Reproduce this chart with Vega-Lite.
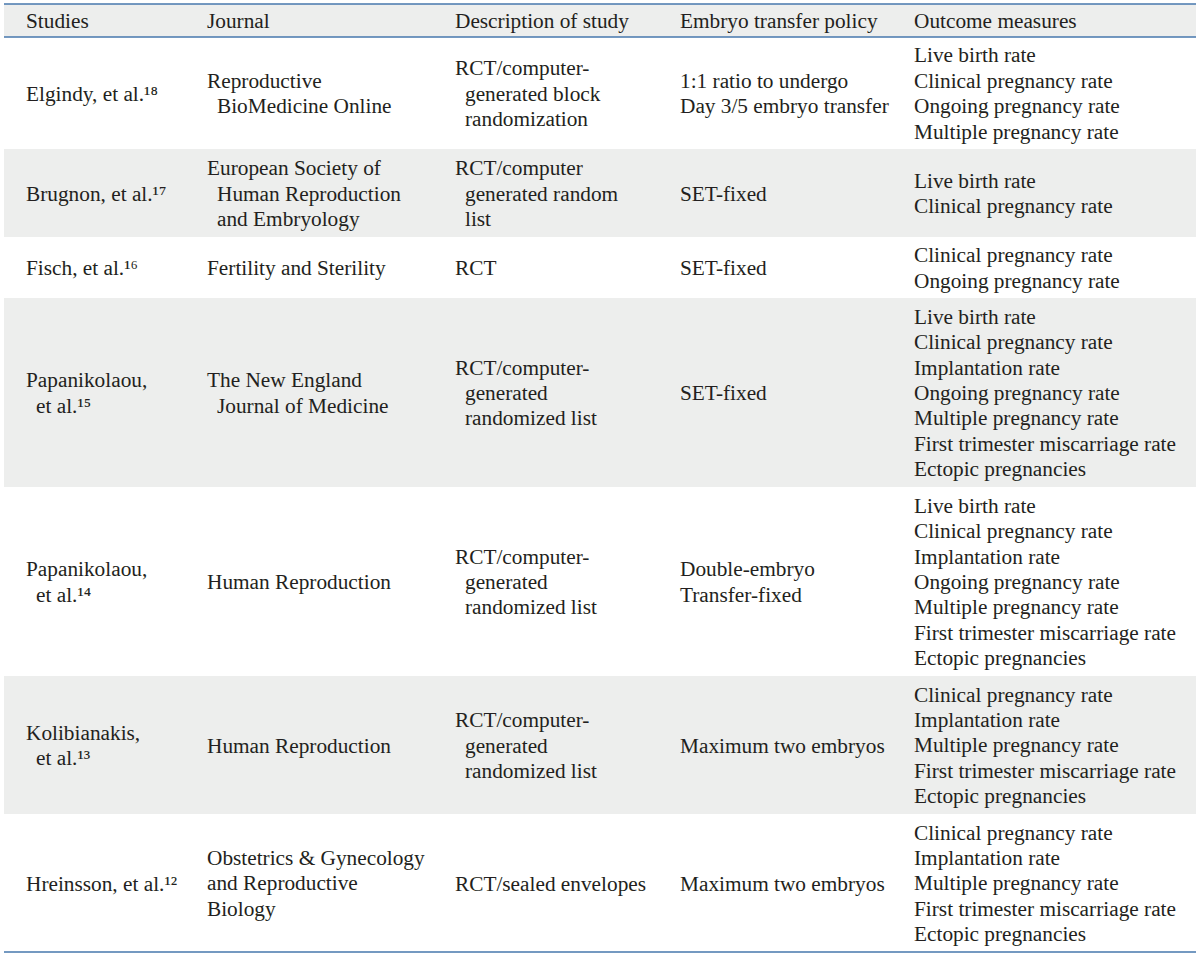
{
  "$schema": "https://vega.github.io/schema/vega-lite/v6.json",
  "autosize": {"type": "none"},
  "padding": {"left": 4, "right": 4, "top": 0, "bottom": 0},
  "width": 1192,
  "height": 956,
  "background": "#ffffff",
  "config": {"view": {"stroke": null}},
  "datasets": {
    "bands": [
      {"start": 0, "end": 1},
      {"start": 2, "end": 3},
      {"start": 4, "end": 5},
      {"start": 6, "end": 7}
    ],
    "lines": [
      {"b": 0},
      {"b": 1},
      {"b": 8}
    ],
    "cells": [
      {"r": 0, "c": 0, "n": 1, "text": "Studies"},
      {"r": 0, "c": 1, "n": 1, "text": "Journal"},
      {"r": 0, "c": 2, "n": 1, "text": "Description of study"},
      {"r": 0, "c": 3, "n": 1, "text": "Embryo transfer policy"},
      {"r": 0, "c": 4, "n": 1, "text": "Outcome measures"},

      {"r": 1, "c": 0, "n": 1, "text": "Elgindy, et al.¹⁸"},
      {"r": 1, "c": 1, "n": 2, "text": "Reproductive", "cont": "BioMedicine Online"},
      {"r": 1, "c": 2, "n": 3, "text": "RCT/computer-", "cont": "generated block\nrandomization"},
      {"r": 1, "c": 3, "n": 2, "text": "1:1 ratio to undergo\nDay 3/5 embryo transfer"},
      {"r": 1, "c": 4, "n": 4, "text": "Live birth rate\nClinical pregnancy rate\nOngoing pregnancy rate\nMultiple pregnancy rate"},

      {"r": 2, "c": 0, "n": 1, "text": "Brugnon, et al.¹⁷"},
      {"r": 2, "c": 1, "n": 3, "text": "European Society of", "cont": "Human Reproduction\nand Embryology"},
      {"r": 2, "c": 2, "n": 3, "text": "RCT/computer", "cont": "generated random\nlist"},
      {"r": 2, "c": 3, "n": 1, "text": "SET-fixed"},
      {"r": 2, "c": 4, "n": 2, "text": "Live birth rate\nClinical pregnancy rate"},

      {"r": 3, "c": 0, "n": 1, "text": "Fisch, et al.¹⁶"},
      {"r": 3, "c": 1, "n": 1, "text": "Fertility and Sterility"},
      {"r": 3, "c": 2, "n": 1, "text": "RCT"},
      {"r": 3, "c": 3, "n": 1, "text": "SET-fixed"},
      {"r": 3, "c": 4, "n": 2, "text": "Clinical pregnancy rate\nOngoing pregnancy rate"},

      {"r": 4, "c": 0, "n": 2, "text": "Papanikolaou,", "cont": "et al.¹⁵"},
      {"r": 4, "c": 1, "n": 2, "text": "The New England", "cont": "Journal of Medicine"},
      {"r": 4, "c": 2, "n": 3, "text": "RCT/computer-", "cont": "generated\nrandomized list"},
      {"r": 4, "c": 3, "n": 1, "text": "SET-fixed"},
      {"r": 4, "c": 4, "n": 7, "text": "Live birth rate\nClinical pregnancy rate\nImplantation rate\nOngoing pregnancy rate\nMultiple pregnancy rate\nFirst trimester miscarriage rate\nEctopic pregnancies"},

      {"r": 5, "c": 0, "n": 2, "text": "Papanikolaou,", "cont": "et al.¹⁴"},
      {"r": 5, "c": 1, "n": 1, "text": "Human Reproduction"},
      {"r": 5, "c": 2, "n": 3, "text": "RCT/computer-", "cont": "generated\nrandomized list"},
      {"r": 5, "c": 3, "n": 2, "text": "Double-embryo\nTransfer-fixed"},
      {"r": 5, "c": 4, "n": 7, "text": "Live birth rate\nClinical pregnancy rate\nImplantation rate\nOngoing pregnancy rate\nMultiple pregnancy rate\nFirst trimester miscarriage rate\nEctopic pregnancies"},

      {"r": 6, "c": 0, "n": 2, "text": "Kolibianakis,", "cont": "et al.¹³"},
      {"r": 6, "c": 1, "n": 1, "text": "Human Reproduction"},
      {"r": 6, "c": 2, "n": 3, "text": "RCT/computer-", "cont": "generated\nrandomized list"},
      {"r": 6, "c": 3, "n": 1, "text": "Maximum two embryos"},
      {"r": 6, "c": 4, "n": 5, "text": "Clinical pregnancy rate\nImplantation rate\nMultiple pregnancy rate\nFirst trimester miscarriage rate\nEctopic pregnancies"},

      {"r": 7, "c": 0, "n": 1, "text": "Hreinsson, et al.¹²"},
      {"r": 7, "c": 1, "n": 3, "text": "Obstetrics & Gynecology\nand Reproductive\nBiology"},
      {"r": 7, "c": 2, "n": 1, "text": "RCT/sealed envelopes"},
      {"r": 7, "c": 3, "n": 1, "text": "Maximum two embryos"},
      {"r": 7, "c": 4, "n": 5, "text": "Clinical pregnancy rate\nImplantation rate\nMultiple pregnancy rate\nFirst trimester miscarriage rate\nEctopic pregnancies"}
    ]
  },
  "layer": [
    {
      "data": {"name": "bands"},
      "mark": {"type": "rect", "color": "#edeeed"},
      "encoding": {
        "y": {"field": "start", "type": "quantitative", "axis": null,
              "scale": {"domain": [0, 1, 2, 3, 4, 5, 6, 7, 8], "range": [4, 37, 149, 237, 298, 487, 676, 814, 952]}},
        "y2": {"field": "end"}
      }
    },
    {
      "data": {"name": "lines"},
      "mark": {"type": "rule", "color": "#4677ad", "strokeWidth": 1.4},
      "encoding": {
        "y": {"field": "b", "type": "quantitative", "axis": null,
              "scale": {"domain": [0, 1, 2, 3, 4, 5, 6, 7, 8], "range": [4, 37, 149, 237, 298, 487, 676, 814, 952]}}
      }
    },
    {
      "data": {"name": "cells"},
      "encoding": {
        "x": {"field": "c", "type": "quantitative", "axis": null,
              "scale": {"domain": [0, 1, 2, 3, 4], "range": [22, 203, 451, 676, 910]}},
        "y": {"field": "r", "type": "quantitative", "axis": null,
              "scale": {"domain": [0, 1, 2, 3, 4, 5, 6, 7], "range": [22.2, 94.5, 194.5, 269, 394, 583, 746.5, 884.5]}}
      },
      "layer": [
        {"transform": [{"filter": "datum.n == 1"}],
         "mark": {"type": "text", "align": "left", "baseline": "middle", "font": "Liberation Serif", "fontSize": 21.3, "lineHeight": 25.4, "lineBreak": "\n", "color": "#231f20", "dy": 0},
         "encoding": {"text": {"field": "text", "type": "nominal"}}},
        {"transform": [{"filter": "datum.n == 2"}],
         "mark": {"type": "text", "align": "left", "baseline": "middle", "font": "Liberation Serif", "fontSize": 21.3, "lineHeight": 25.4, "lineBreak": "\n", "color": "#231f20", "dy": -12.7},
         "encoding": {"text": {"field": "text", "type": "nominal"}}},
        {"transform": [{"filter": "datum.n == 3"}],
         "mark": {"type": "text", "align": "left", "baseline": "middle", "font": "Liberation Serif", "fontSize": 21.3, "lineHeight": 25.4, "lineBreak": "\n", "color": "#231f20", "dy": -25.4},
         "encoding": {"text": {"field": "text", "type": "nominal"}}},
        {"transform": [{"filter": "datum.n == 4"}],
         "mark": {"type": "text", "align": "left", "baseline": "middle", "font": "Liberation Serif", "fontSize": 21.3, "lineHeight": 25.4, "lineBreak": "\n", "color": "#231f20", "dy": -38.1},
         "encoding": {"text": {"field": "text", "type": "nominal"}}},
        {"transform": [{"filter": "datum.n == 5"}],
         "mark": {"type": "text", "align": "left", "baseline": "middle", "font": "Liberation Serif", "fontSize": 21.3, "lineHeight": 25.4, "lineBreak": "\n", "color": "#231f20", "dy": -50.8},
         "encoding": {"text": {"field": "text", "type": "nominal"}}},
        {"transform": [{"filter": "datum.n == 7"}],
         "mark": {"type": "text", "align": "left", "baseline": "middle", "font": "Liberation Serif", "fontSize": 21.3, "lineHeight": 25.4, "lineBreak": "\n", "color": "#231f20", "dy": -76.2},
         "encoding": {"text": {"field": "text", "type": "nominal"}}},
        {"transform": [{"filter": "datum.n == 2 && isValid(datum.cont)"}],
         "mark": {"type": "text", "align": "left", "baseline": "middle", "font": "Liberation Serif", "fontSize": 21.3, "lineHeight": 25.4, "lineBreak": "\n", "color": "#231f20", "dx": 10, "dy": 12.7},
         "encoding": {"text": {"field": "cont", "type": "nominal"}}},
        {"transform": [{"filter": "datum.n == 3 && isValid(datum.cont)"}],
         "mark": {"type": "text", "align": "left", "baseline": "middle", "font": "Liberation Serif", "fontSize": 21.3, "lineHeight": 25.4, "lineBreak": "\n", "color": "#231f20", "dx": 10, "dy": 0},
         "encoding": {"text": {"field": "cont", "type": "nominal"}}}
      ]
    }
  ],
  "resolve": {"scale": {"y": "independent"}}
}
